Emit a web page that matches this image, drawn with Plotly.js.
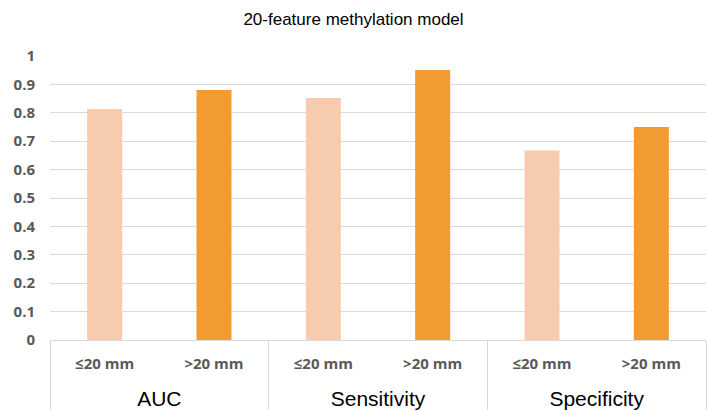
<!DOCTYPE html>
<html>
<head>
<meta charset="utf-8">
<script src="https://cdn.plot.ly/plotly-3.0.1.min.js"></script>
<style>html,body{margin:0;padding:0;background:#fff;}#chart{width:707px;height:411px;}</style>
</head>
<body>
<div id="chart"></div>
<script>
const groups = ['AUC', 'AUC', 'Sensitivity', 'Sensitivity', 'Specificity', 'Specificity'];
const sizes = ['≤20 mm', '>20 mm', '≤20 mm', '>20 mm', '≤20 mm', '>20 mm'];
const values = [0.813, 0.880, 0.852, 0.951, 0.667, 0.750];
const yTicks = [0, 0.1, 0.2, 0.3, 0.4, 0.5, 0.6, 0.7, 0.8, 0.9, 1];
const yTickText = ['0', '0.1', '0.2', '0.3', '0.4', '0.5', '0.6', '0.7', '0.8', '0.9', '1'];

const colorFor = {'≤20 mm': '#F7CBAD', '>20 mm': '#F39B33'};
const groupLabel = g => ' <br><span style="font-family:Liberation Sans, Arial, sans-serif;font-weight:normal;font-size:21px;color:#000000">' + g + '</span>';
const sizeLabel = s => '<span style="font-size:15px">' + s + '</span>';

const trace = {
  type: 'bar',
  x: [groups.map(groupLabel), sizes.map(sizeLabel)],
  y: values,
  width: 0.32,
  marker: {color: sizes.map(s => colorFor[s])},
  hoverinfo: 'none'
};

const layout = {
  width: 707,
  height: 411,
  margin: {l: 50, r: 1, t: 56, b: 71},
  paper_bgcolor: '#ffffff',
  plot_bgcolor: '#ffffff',
  showlegend: false,
  title: {
    text: '20-feature methylation model',
    font: {family: 'Liberation Sans, Arial, sans-serif', size: 17, color: '#000000'},
    xref: 'container', x: 0.5, xanchor: 'center',
    yref: 'container', y: 0.953, yanchor: 'middle'
  },
  xaxis: {
    type: 'multicategory',
    showline: true,
    linecolor: '#d9d9d9',
    linewidth: 1,
    showdividers: true,
    dividercolor: '#d9d9d9',
    dividerwidth: 1,
    ticks: '',
    ticklabelstandoff: 8,
    tickfont: {family: 'Open Sans, sans-serif', size: 17, color: '#595959', weight: 'bold'},
    showgrid: false
  },
  yaxis: {
    range: [0, 1],
    tickvals: yTicks,
    ticktext: yTickText,
    showgrid: true,
    gridcolor: '#d9d9d9',
    gridwidth: 1,
    zeroline: false,
    showline: false,
    ticks: '',
    ticklabelstandoff: 14,
    tickfont: {family: 'Open Sans, sans-serif', size: 15, color: '#595959', weight: 'bold'}
  },
  bargap: 0.68
};

Plotly.newPlot('chart', [trace], layout, {displayModeBar: false, staticPlot: true});
</script>
</body>
</html>
